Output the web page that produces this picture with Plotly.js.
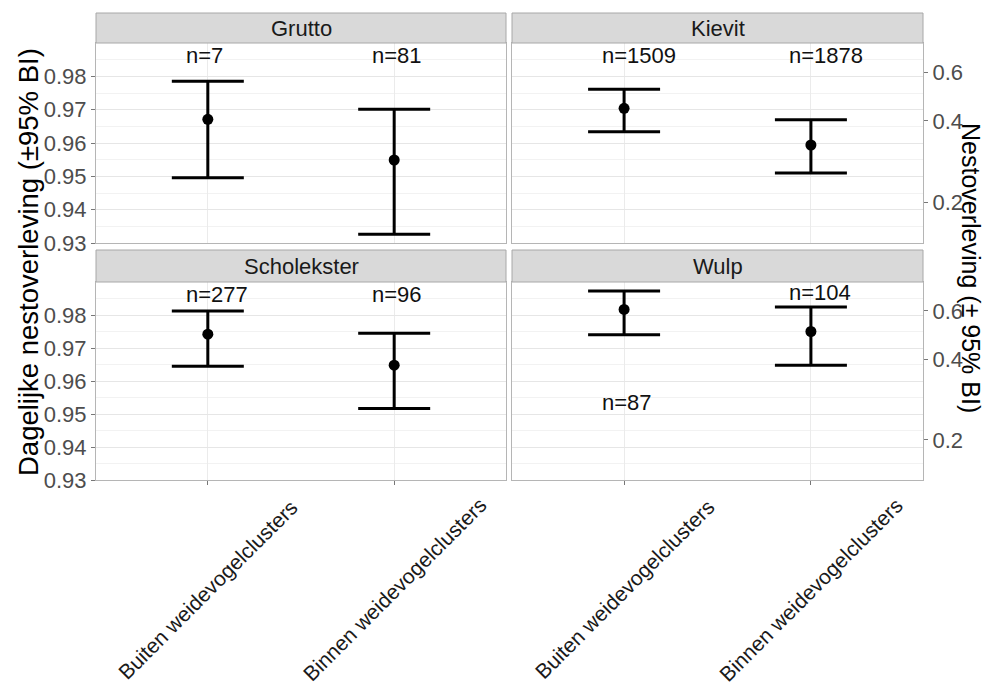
<!DOCTYPE html>
<html>
<head>
<meta charset="utf-8">
<script src="https://cdn.plot.ly/plotly-3.0.1.min.js"></script>
<style>html,body{margin:0;padding:0;background:#fff}#chart{width:985px;height:691px}</style>
</head>
<body>
<div id="chart"></div>
<script>
// ---- data ----
const categories = ["Buiten weidevogelclusters", "Binnen weidevogelclusters"];
const species = ["Grutto", "Kievit", "Scholekster", "Wulp"];

const estGrutto = [0.9671, 0.9549];
const lowGrutto = [0.9496, 0.9326];
const upGrutto  = [0.9785, 0.9701];
const nGrutto   = [7, 81];
const nYGrutto  = [0.9863, 0.9863];

const estKievit = [0.9704, 0.9594];
const lowKievit = [0.9634, 0.9510];
const upKievit  = [0.9761, 0.9670];
const nKievit   = [1509, 1878];
const nYKievit  = [0.9863, 0.9863];

const estScholekster = [0.9742, 0.9648];
const lowScholekster = [0.9645, 0.9517];
const upScholekster  = [0.9812, 0.9745];
const nScholekster   = [277, 96];
const nYScholekster  = [0.9863, 0.9863];

const estWulp = [0.9817, 0.9750];
const lowWulp = [0.9740, 0.9648];
const upWulp  = [0.9873, 0.9824];
const nWulp   = [87, 104];
const nYWulp  = [0.9535, 0.9867];

const leftTicks = [0.93, 0.94, 0.95, 0.96, 0.97, 0.98];
const rightTickLabels = [0.2, 0.4, 0.6];
const exposureDays = 27;

// ---- build ----
const FONT = "Liberation Sans, Arial, Helvetica, sans-serif";
const panels = [
  {name: species[0], est: estGrutto, low: lowGrutto, up: upGrutto, n: nGrutto, ny: nYGrutto, xa: "x", ya: "y"},
  {name: species[1], est: estKievit, low: lowKievit, up: upKievit, n: nKievit, ny: nYKievit, xa: "x2", ya: "y2"},
  {name: species[2], est: estScholekster, low: lowScholekster, up: upScholekster, n: nScholekster, ny: nYScholekster, xa: "x3", ya: "y3"},
  {name: species[3], est: estWulp, low: lowWulp, up: upWulp, n: nWulp, ny: nYWulp, xa: "x4", ya: "y4"}
];

const traces = [];
const annotations = [];
panels.forEach(p => {
  traces.push({
    type: "scatter", mode: "markers",
    x: categories, y: p.est,
    xaxis: p.xa, yaxis: p.ya,
    marker: {color: "#000", size: 11},
    error_y: {
      type: "data", symmetric: false,
      array: p.up.map((u, i) => u - p.est[i]),
      arrayminus: p.est.map((e, i) => e - p.low[i]),
      color: "#000", thickness: 3, width: 36
    },
    showlegend: false, hoverinfo: "skip"
  });
  p.n.forEach((nv, i) => {
    annotations.push({
      xref: p.xa, yref: p.ya, x: categories[i], y: p.ny[i],
      text: "n=" + nv, showarrow: false, xanchor: "left", yanchor: "middle", xshift: -24,
      font: {family: FONT, size: 22, color: "#111"}
    });
  });
});

// dummy traces for right-hand axes
traces.push({type: "scatter", mode: "markers", x: categories, y: estKievit, xaxis: "x2", yaxis: "y5",
  marker: {opacity: 0}, showlegend: false, hoverinfo: "skip"});
traces.push({type: "scatter", mode: "markers", x: categories, y: estWulp, xaxis: "x4", yaxis: "y6",
  marker: {opacity: 0}, showlegend: false, hoverinfo: "skip"});

const W = 985, H = 691;
const px = v => v / W, py = v => 1 - v / H;
const xL = [px(96), px(506)], xR = [px(512), px(923)];
const yT = [py(243), py(43)], yB = [py(480), py(282)];
const yRange = [0.93, 0.99];
const rightTickVals = rightTickLabels.map(v => Math.pow(v, 1 / exposureDays));

function xax(domain, anchor, showTicks) {
  return {
    domain: domain, anchor: anchor, type: "category", range: [-0.6, 1.6],
    showline: true, mirror: true, linecolor: "#b5b5b5", linewidth: 1,
    showgrid: true, gridcolor: "#ebebeb", gridwidth: 1,
    ticks: showTicks ? "outside" : "", ticklen: 4, tickcolor: "#777",
    showticklabels: false,
    zeroline: false, fixedrange: true
  };
}
function yax(domain, anchor, showLabels) {
  return {
    domain: domain, anchor: anchor, range: yRange,
    tickmode: "array", tickvals: leftTicks, ticktext: leftTicks.map(v => v.toFixed(2)),
    showline: true, mirror: true, linecolor: "#b5b5b5", linewidth: 1,
    showgrid: true, gridcolor: "#e6e6e6", gridwidth: 1,
    minor: {showgrid: true, gridcolor: "#f2f2f2", gridwidth: 1, tickmode: "array",
      tickvals: [0.935, 0.945, 0.955, 0.965, 0.975, 0.985]},
    ticks: showLabels ? "outside" : "", ticklen: 4, tickcolor: "#777",
    showticklabels: showLabels,
    tickfont: {family: FONT, size: 22, color: "#4d4d4d"},
    zeroline: false, fixedrange: true
  };
}
function rax(overlay, anchor) {
  return {
    overlaying: overlay, anchor: anchor, side: "right", range: yRange,
    tickmode: "array", tickvals: rightTickVals, ticktext: rightTickLabels.map(v => v.toFixed(1)),
    showgrid: false, showline: false, zeroline: false,
    ticks: "outside", ticklen: 4, tickcolor: "#777",
    tickfont: {family: FONT, size: 22, color: "#4d4d4d"},
    fixedrange: true
  };
}

// rotated category labels under the bottom row, centred on each tick
["x3", "x4"].forEach(xa => {
  categories.forEach(c => {
    annotations.push({xref: xa, yref: "paper", x: c, y: py(589), text: c, textangle: -45,
      showarrow: false, xanchor: "center", yanchor: "middle",
      font: {family: FONT, size: 21, color: "#1a1a1a"}});
  });
});

const shapes = [];
const strips = [
  {x: xL, y: [py(43), py(13)], t: species[0]},
  {x: xR, y: [py(43), py(13)], t: species[1]},
  {x: xL, y: [py(282), py(250)], t: species[2]},
  {x: xR, y: [py(282), py(250)], t: species[3]}
];
strips.forEach(s => {
  shapes.push({type: "rect", xref: "paper", yref: "paper", x0: s.x[0], x1: s.x[1], y0: s.y[0], y1: s.y[1],
    fillcolor: "#d9d9d9", line: {color: "#a8a8a8", width: 1}, layer: "above"});
  annotations.push({xref: "paper", yref: "paper", x: (s.x[0] + s.x[1]) / 2, y: (s.y[0] + s.y[1]) / 2,
    text: s.t, showarrow: false, xanchor: "center", yanchor: "middle",
    font: {family: FONT, size: 22, color: "#1a1a1a"}});
});

annotations.push({xref: "paper", yref: "paper", x: px(28), y: py(262), text: "Dagelijke nestoverleving (±95% BI)",
  textangle: -90, showarrow: false, xanchor: "center", yanchor: "middle",
  font: {family: FONT, size: 27.5, color: "#000"}});
annotations.push({xref: "paper", yref: "paper", x: px(971), y: py(268), text: "Nestoverleving (± 95% BI)",
  textangle: 90, showarrow: false, xanchor: "center", yanchor: "middle",
  font: {family: FONT, size: 25, color: "#000"}});

const layout = {
  width: W, height: H, margin: {l: 0, r: 0, t: 0, b: 0},
  paper_bgcolor: "#fff", plot_bgcolor: "#fff",
  font: {family: FONT},
  showlegend: false,
  xaxis: xax(xL, "y", false), yaxis: yax(yT, "x", true),
  xaxis2: xax(xR, "y2", false), yaxis2: yax(yT, "x2", false),
  xaxis3: xax(xL, "y3", true), yaxis3: yax(yB, "x3", true),
  xaxis4: xax(xR, "y4", true), yaxis4: yax(yB, "x4", false),
  yaxis5: rax("y2", "x2"), yaxis6: rax("y4", "x4"),
  shapes: shapes, annotations: annotations
};

Plotly.newPlot("chart", traces, layout, {staticPlot: true, displayModeBar: false});
</script>
</body>
</html>
